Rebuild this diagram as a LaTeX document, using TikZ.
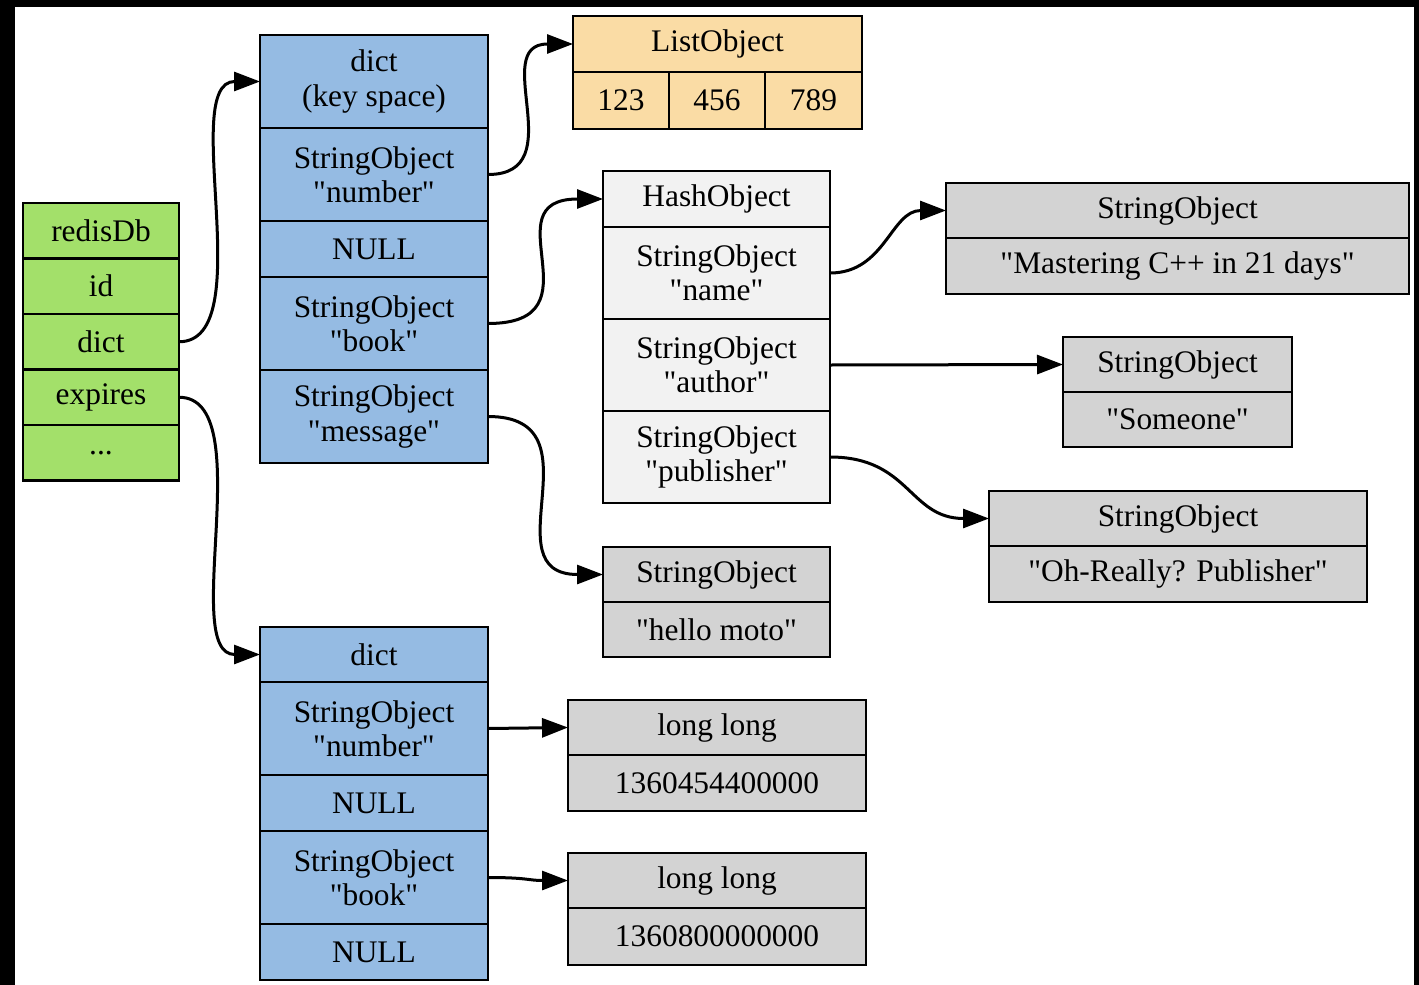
\documentclass[tikz,border=0pt]{standalone}
\usepackage{fontspec}
\setmainfont[Ligatures=TeXOff]{Liberation Serif}
\usetikzlibrary{arrows.meta}

\definecolor{dbgreen}{HTML}{A3E06A}
\definecolor{dictblue}{HTML}{95BBE3}
\definecolor{listorange}{HTML}{FADCA5}
\definecolor{hashgrey}{HTML}{F2F2F2}
\definecolor{strgrey}{HTML}{D3D3D3}

\newcommand\cellfnt{\fontsize{15.7}{17.2}\selectfont}

\tikzset{
  cell/.style={draw=black, line width=1.15pt, inner sep=0pt, outer sep=0pt,
    anchor=north west, align=center, font=\cellfnt, text=black},
  gcell/.style={cell, fill=dbgreen, minimum width=78pt, minimum height=27.75pt},
  bcell/.style={cell, fill=dictblue, minimum width=114pt},
  ocell/.style={cell, fill=listorange},
  hcell/.style={cell, fill=hashgrey, minimum width=113.5pt},
  scell/.style={cell, fill=strgrey},
  edge/.style={draw=black, line width=1.5pt, -{Triangle[length=13pt,width=9.5pt]}}
}

\begin{document}
\begin{tikzpicture}[x=0.5pt,y=-0.5pt]
\useasboundingbox (0,0) rectangle (1419,985);
\fill[black] (0,0) rectangle (1419,985);
\fill[white] (15,7) rectangle (1414,985);

% redisDb record
\node[gcell] (db0) at (23,203)   {redisDb};
\node[gcell] (db1) at (23,258.5) {id};
\node[gcell] (db2) at (23,314)   {dict};
\node[gcell] (db3) at (23,369.5) {expires};
\node[gcell] (db4) at (23,425)   {...};

% key space dictionary
\node[bcell, minimum height=46.5pt] (ks0) at (260,35)  {dict\\(key space)};
\node[bcell, minimum height=46.5pt] (ks1) at (260,128) {StringObject\\"number"};
\node[bcell, minimum height=28pt]   (ks2) at (260,221) {NULL};
\node[bcell, minimum height=46.5pt] (ks3) at (260,277) {StringObject\\"book"};
\node[bcell, minimum height=46.5pt] (ks4) at (260,370) {StringObject\\"message"};

% expires dictionary
\node[bcell, minimum height=27.5pt] (ex0) at (260,627) {dict};
\node[bcell, minimum height=46.5pt] (ex1) at (260,682) {StringObject\\"number"};
\node[bcell, minimum height=28pt]   (ex2) at (260,775) {NULL};
\node[bcell, minimum height=46.5pt] (ex3) at (260,831) {StringObject\\"book"};
\node[bcell, minimum height=28pt]   (ex4) at (260,924) {NULL};

% list object
\node[ocell, minimum width=144.5pt, minimum height=28pt] (lo0) at (573,16) {ListObject};
\node[ocell, minimum width=48pt, minimum height=28.5pt]  (lo1) at (573,72) {123};
\node[ocell, minimum width=48pt, minimum height=28.5pt]  (lo2) at (669,72) {456};
\node[ocell, minimum width=48.5pt, minimum height=28.5pt] (lo3) at (765,72) {789};

% hash object
\node[hcell, minimum height=28pt] (ho0) at (603,171) {HashObject};
\node[hcell, minimum height=46pt] (ho1) at (603,227) {StringObject\\"name"};
\node[hcell, minimum height=46pt] (ho2) at (603,319) {StringObject\\"author"};
\node[hcell, minimum height=46pt] (ho3) at (603,411) {StringObject\\"publisher"};

% string objects
\node[scell, minimum width=231.5pt, minimum height=27.5pt] (sn0) at (946,183) {StringObject};
\node[scell, minimum width=231.5pt, minimum height=28pt]   (sn1) at (946,238) {"Mastering C++ in 21 days"};

\node[scell, minimum width=114.5pt, minimum height=27.5pt] (sa0) at (1063,337) {StringObject};
\node[scell, minimum width=114.5pt, minimum height=27.5pt] (sa1) at (1063,392) {"Someone"};

\node[scell, minimum width=189pt, minimum height=27.5pt] (sp0) at (989,491) {StringObject};
\node[scell, minimum width=189pt, minimum height=28pt]   (sp1) at (989,546) {"Oh-Really? Publisher"};

\node[scell, minimum width=113.5pt, minimum height=27.5pt] (sm0) at (603,547) {StringObject};
\node[scell, minimum width=113.5pt, minimum height=27.5pt] (sm1) at (603,602) {"hello moto"};

% expiry times
\node[scell, minimum width=149pt, minimum height=27.5pt] (ll0) at (568,700) {long long};
\node[scell, minimum width=149pt, minimum height=28pt]   (ll1) at (568,755) {1360454400000};
\node[scell, minimum width=149pt, minimum height=27.5pt] (lm0) at (568,853) {long long};
\node[scell, minimum width=149pt, minimum height=28.5pt] (lm1) at (568,908) {1360800000000};

% pointers
\draw[edge] (db2.east) .. controls +(82,0) and +(-82,0) .. (ks0.west);
\draw[edge] (db3.east) .. controls +(81,0) and +(-81,0) .. (ex0.west);
\draw[edge] (ks1.east) .. controls +(85,0) and +(-85,0) .. (lo0.west);
\draw[edge] (ks3.east) .. controls +(115,0) and +(-115,0) .. (ho0.west);
\draw[edge] (ks4.east) .. controls +(115,0) and +(-115,0) .. (sm0.west);
\draw[edge] (ho1.east) .. controls +(55,0) and +(-55,0) .. (sn0.west);
\draw[edge] (ho2.east) -- (sa0.west);
\draw[edge] (ho3.east) .. controls +(80,0) and +(-80,0) .. (sp0.west);
\draw[edge] (ex1.east) -- (ll0.west);
\draw[edge] (ex3.east) .. controls +(40,0) and +(-40,0) .. (lm0.west);
\end{tikzpicture}
\end{document}
